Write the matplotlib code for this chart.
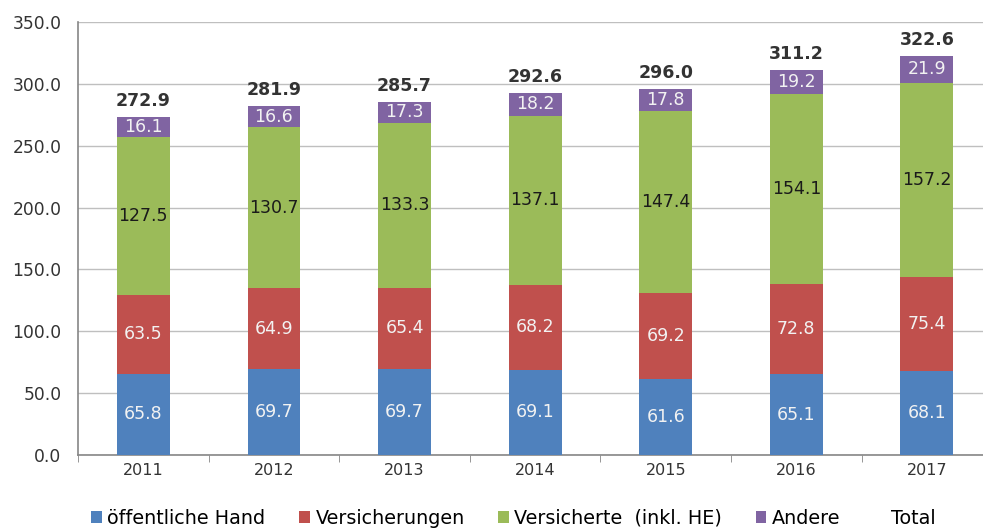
import matplotlib
matplotlib.use("Agg")
import matplotlib.pyplot as plt
import numpy as np
from matplotlib.patches import Patch

years = ["2011", "2012", "2013", "2014", "2015", "2016", "2017"]
oeffentlich = [65.8, 69.7, 69.7, 69.1, 61.6, 65.1, 68.1]
versicherungen = [63.5, 64.9, 65.4, 68.2, 69.2, 72.8, 75.4]
versicherte = [127.5, 130.7, 133.3, 137.1, 147.4, 154.1, 157.2]
andere = [16.1, 16.6, 17.3, 18.2, 17.8, 19.2, 21.9]
total = [272.9, 281.9, 285.7, 292.6, 296.0, 311.2, 322.6]

series_names = ["öffentliche Hand", "Versicherungen", "Versicherte  (inkl. HE)", "Andere"]
colors = ["#4F81BD", "#C0504D", "#9BBB59", "#8064A2"]
label_colors = ["#F2F2F2", "#F2F2F2", "#1a1a1a", "#F2F2F2"]
yticks = [0, 50, 100, 150, 200, 250, 300, 350]

plt.rcParams['font.family'] = ['DejaVu Sans']

fig = plt.figure(figsize=(9.83, 5.29), dpi=100)
ax = fig.add_axes([0.0794, 0.1399, 0.93, 0.8185])

x = np.arange(len(years))
bottom = np.zeros(len(years))
data = [oeffentlich, versicherungen, versicherte, andere]
for vals, c, lc in zip(data, colors, label_colors):
    vals = np.array(vals)
    ax.bar(x, vals, width=0.405, bottom=bottom, color=c, zorder=3)
    for xi, b, v in zip(x, bottom, vals):
        ax.text(xi, b + v / 2, f"{v:.1f}", ha="center", va="center",
                color=lc, fontsize=12.5, zorder=4)
    bottom = bottom + vals

for xi, t in zip(x, total):
    ax.annotate(f"{t:.1f}", (xi, t), xytext=(0, 5), textcoords="offset points",
                ha="center", va="bottom", fontsize=12.5, fontweight="bold",
                color="#333333")

ax.set_xlim(-0.5, len(years) - 0.5)
ax.set_ylim(0, 350)
ax.set_yticks(yticks)
ax.set_yticklabels([f"{v:.1f}" for v in yticks], fontsize=12.3, color="#333333")
ax.set_xticks(x)
ax.set_xticklabels(years, fontsize=11.5, color="#333333")
ax.set_xticks(np.arange(-0.5, len(years), 1), minor=True)
ax.tick_params(axis="x", which="major", length=0, pad=6)
ax.tick_params(axis="x", which="minor", length=5, color="#868686")
ax.tick_params(axis="y", length=0, pad=12)

ax.grid(axis="y", color="#BFBFBF", linewidth=1, zorder=0)
for s in ["top", "right"]:
    ax.spines[s].set_visible(False)
ax.spines["left"].set_color("#868686")
ax.spines["bottom"].set_color("#868686")
ax.spines["left"].set_linewidth(1.2)
ax.spines["bottom"].set_linewidth(1.2)

handles = [Patch(facecolor=c) for c in colors] + [Patch(facecolor="none", edgecolor="none")]
labels = series_names + ["Total"]
fig.legend(handles, labels, loc="lower center", bbox_to_anchor=(0.522, -0.03),
           ncol=5, frameon=False, fontsize=13.8, handlelength=0.55, handleheight=0.55,
           handletextpad=0.3, columnspacing=1.75)

fig.savefig("out.png", dpi=100)
